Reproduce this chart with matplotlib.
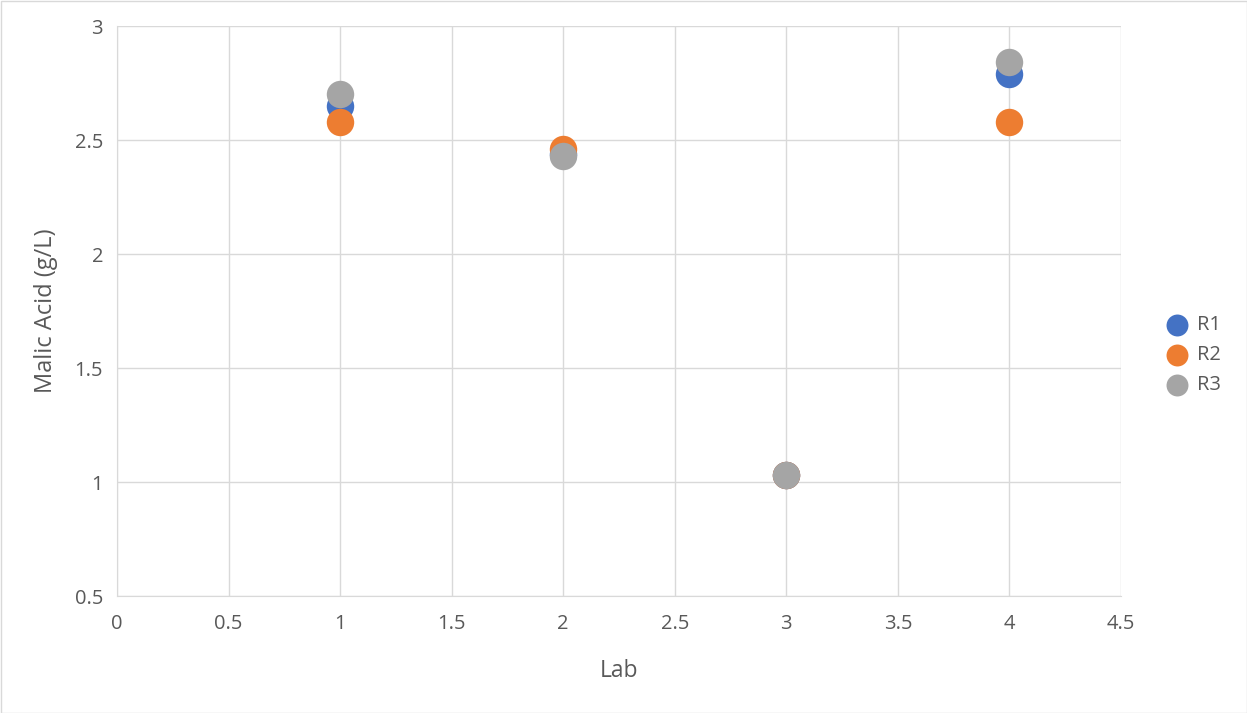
import matplotlib
matplotlib.use("Agg")
import matplotlib.pyplot as plt
from matplotlib.patches import Rectangle

labs = [1, 2, 3, 4]
r1 = [2.65, 2.44, 1.03, 2.79]
r2 = [2.58, 2.46, 1.03, 2.58]
r3 = [2.70, 2.43, 1.03, 2.84]
series = [("R1", r1, "#4472C4"), ("R2", r2, "#ED7D31"), ("R3", r3, "#A5A5A5")]

plt.rcParams['font.family'] = ['Open Sans', 'DejaVu Sans']
fig = plt.figure(figsize=(12.47, 7.13), dpi=100)
W, H = 1247, 713
ax = fig.add_axes([117 / W, 1 - 596 / H, (1121 - 117) / W, (596 - 26) / H])

for name, vals, col in series:
    ax.scatter(labs, vals, s=390, color=col, label=name, zorder=3, linewidths=0)

ax.set_xlim(0, 4.5)
ax.set_ylim(0.5, 3)
ax.set_xticks([0, 0.5, 1, 1.5, 2, 2.5, 3, 3.5, 4, 4.5])
ax.set_xticklabels(["0", "0.5", "1", "1.5", "2", "2.5", "3", "3.5", "4", "4.5"])
ax.set_yticks([0.5, 1, 1.5, 2, 2.5, 3])
ax.set_yticklabels(["0.5", "1", "1.5", "2", "2.5", "3"])
ax.grid(True, color="#d9d9d9", linewidth=1.0, zorder=0)
ax.set_axisbelow(True)
for s in ["top", "right"]:
    ax.spines[s].set_visible(False)
ax.spines["left"].set_color("#d9d9d9")
ax.spines["bottom"].set_color("#d9d9d9")
ax.tick_params(axis="x", length=0, colors="#595959", labelsize=14.5, pad=13)
ax.tick_params(axis="y", length=0, colors="#595959", labelsize=14.5, pad=10)
ax.set_xlabel("Lab", color="#595959", fontsize=16.5, labelpad=18)
ax.set_ylabel("Malic Acid (g/L)", color="#595959", fontsize=17, labelpad=12)

leg = fig.legend(loc="center left", bbox_to_anchor=(1157 / W, 1 - 355 / H),
                 frameon=False, fontsize=14.5, labelcolor="#595959",
                 handletextpad=0.0, markerscale=0.8, labelspacing=0.5,
                 borderaxespad=0, borderpad=0)

fig.patches.append(Rectangle((0.5 / W, 0.5 / H), 1 - 1 / W, 1 - 1 / H,
                             transform=fig.transFigure, fill=False,
                             edgecolor="#d9d9d9", linewidth=1))
fig.savefig("out.png", dpi=100)
